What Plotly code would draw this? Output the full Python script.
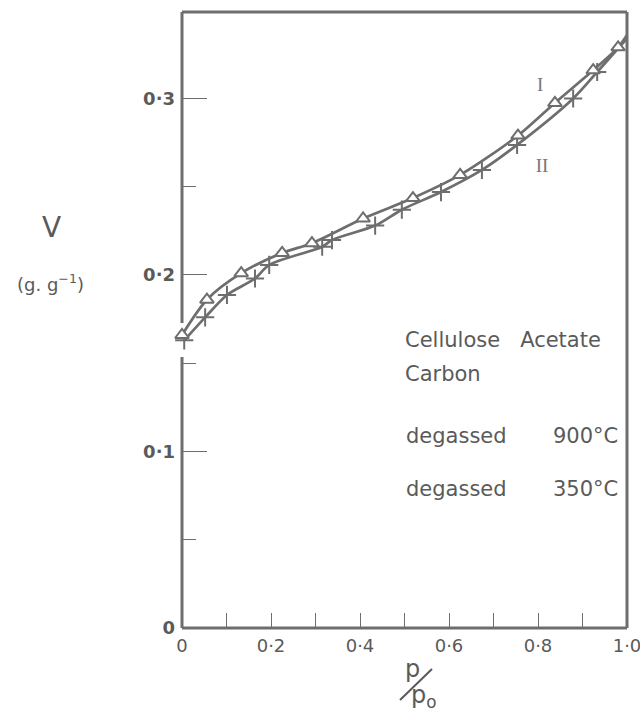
import plotly.graph_objects as go

# ---------------- data ----------------
# degassed 900 C  (triangles)
tri_x = [0.0, 0.056, 0.133, 0.225, 0.292, 0.407, 0.519, 0.625, 0.755, 0.838, 0.924, 0.980]
tri_v = [0.166, 0.186, 0.201, 0.2125, 0.218, 0.232, 0.2436, 0.2567, 0.279, 0.2975, 0.316, 0.329]
# degassed 350 C  (crosses)
crs_x = [0.005, 0.052, 0.101, 0.164, 0.196, 0.315, 0.337, 0.434, 0.494, 0.582, 0.674, 0.753, 0.879, 0.933]
crs_v = [0.163, 0.176, 0.1887, 0.198, 0.2057, 0.216, 0.2198, 0.228, 0.237, 0.247, 0.2595, 0.2737, 0.300, 0.315]
# where the drawn curves leave the frame
tri_end_x, tri_end_v = 1.0, 0.336
crs_end_x, crs_end_v = 1.0, 0.334
# labels I / II
lab_text = ["I", "II"]
lab_x = [0.805, 0.809]
lab_v = [0.307, 0.261]

y_ticks = [0, 0.1, 0.2, 0.3]
y_tick_text = ["0", "0·1", "0·2", "0·3"]
x_ticks = [0, 0.2, 0.4, 0.6, 0.8, 1.0]
x_tick_text = ["0", "0·2", "0·4", "0·6", "0·8", "1·0"]

# ---------------- style ----------------
W, H = 640, 715
ML, MR, MT, MB = 182, 13, 12, 87
GRAY = "#6e6e6e"
TXT = "#5a5a5a"
FONT = "DejaVu Sans"
Y_MAX = 0.349


def px(xp):
    return (xp - ML) / (W - ML - MR)


def py(yp):
    return (H - MB - yp) / (H - MT - MB)


fig = go.Figure()

# curves
fig.add_trace(go.Scatter(x=tri_x + [tri_end_x], y=tri_v + [tri_end_v], mode="lines",
                         line=dict(color=GRAY, width=2.7, shape="spline", smoothing=0.8),
                         hoverinfo="skip", showlegend=False, cliponaxis=False))
fig.add_trace(go.Scatter(x=crs_x + [crs_end_x], y=crs_v + [crs_end_v], mode="lines",
                         line=dict(color=GRAY, width=2.7, shape="spline", smoothing=0.8),
                         hoverinfo="skip", showlegend=False, cliponaxis=False))
# markers
fig.add_trace(go.Scatter(x=crs_x, y=crs_v, mode="markers", name="degassed 350°C",
                         marker=dict(symbol="cross-thin", size=13, color=GRAY,
                                     line=dict(color=GRAY, width=2)),
                         showlegend=False, cliponaxis=False))
fig.add_trace(go.Scatter(x=tri_x, y=tri_v, mode="markers", name="degassed 900°C",
                         marker=dict(symbol="triangle-up", size=12, color="white",
                                     line=dict(color=GRAY, width=2)),
                         showlegend=False, cliponaxis=False))
# I / II labels
fig.add_trace(go.Scatter(x=lab_x, y=lab_v, mode="text", text=lab_text,
                         textfont=dict(family="Liberation Serif", size=19, color="#777"),
                         showlegend=False, hoverinfo="skip", cliponaxis=False))

# frame (left axis has a gap where the first points sit)
shapes = []
line = dict(color=GRAY, width=3)
shapes.append(dict(type="line", xref="paper", yref="y", x0=0, x1=0, y0=0, y1=0.1535, line=line, layer="below"))
shapes.append(dict(type="line", xref="paper", yref="y", x0=0, x1=0, y0=0.1728, y1=Y_MAX, line=line, layer="below"))
shapes.append(dict(type="line", xref="paper", yref="paper", x0=0, x1=1, y0=1, y1=1, line=line, layer="below"))
shapes.append(dict(type="line", xref="paper", yref="paper", x0=1, x1=1, y0=0, y1=1, line=line, layer="below"))
shapes.append(dict(type="line", xref="paper", yref="paper", x0=0, x1=1, y0=0, y1=0, line=line, layer="below"))
# slash of p/p0
shapes.append(dict(type="line", xref="paper", yref="paper", x0=px(400), x1=px(432), y0=py(700), y1=py(669),
                   line=dict(color=TXT, width=2)))

ann = []
def text(s, xp, yp, size, xanchor="center", family=FONT, color=TXT):
    ann.append(dict(text=s, x=px(xp), y=py(yp), xref="paper", yref="paper", showarrow=False,
                    xanchor=xanchor, yanchor="middle", font=dict(family=family, size=size, color=color)))

NB = "\u00a0"
text("Cellulose" + NB * 3 + "Acetate", 403, 340, 21, "left")
text("Carbon", 403, 374, 21, "left")
text("degassed", 404, 436, 21, "left")
text("900°C", 620, 436, 21, "right")
text("degassed", 404, 489, 21, "left")
text("350°C", 620, 489, 21, "right")
text("V", 51, 227, 28)
text("(g. g<sup>−1</sup>)", 50, 283, 18)
text("p", 412, 669, 24)
text("p<sub>o</sub>", 424, 697, 24)

fig.update_layout(
    width=W, height=H, margin=dict(l=ML, r=MR, t=MT, b=MB, autoexpand=False),
    plot_bgcolor="white", paper_bgcolor="white",
    shapes=shapes, annotations=ann,
    xaxis=dict(range=[0, 1], showgrid=False, zeroline=False, showline=False, automargin=False,
               tickvals=x_ticks, ticktext=x_tick_text, ticks="inside", ticklen=15,
               tickwidth=1.2, tickcolor=GRAY, ticklabeloverflow="allow",
               minor=dict(dtick=0.1, ticks="inside", ticklen=15, tickwidth=1.2, tickcolor=GRAY),
               tickfont=dict(family=FONT, size=18, color=TXT), ticklabelstandoff=5),
    yaxis=dict(range=[0, Y_MAX], showgrid=False, zeroline=False, showline=False, automargin=False,
               tickvals=y_ticks, ticktext=y_tick_text, ticks="inside", ticklen=25,
               tickwidth=1.2, tickcolor=GRAY,
               minor=dict(dtick=0.05, ticks="inside", ticklen=14, tickwidth=1.2, tickcolor=GRAY),
               tickfont=dict(family=FONT, size=18, color=TXT, weight="bold"), ticklabelstandoff=6),
)

fig.write_html("out.html")
